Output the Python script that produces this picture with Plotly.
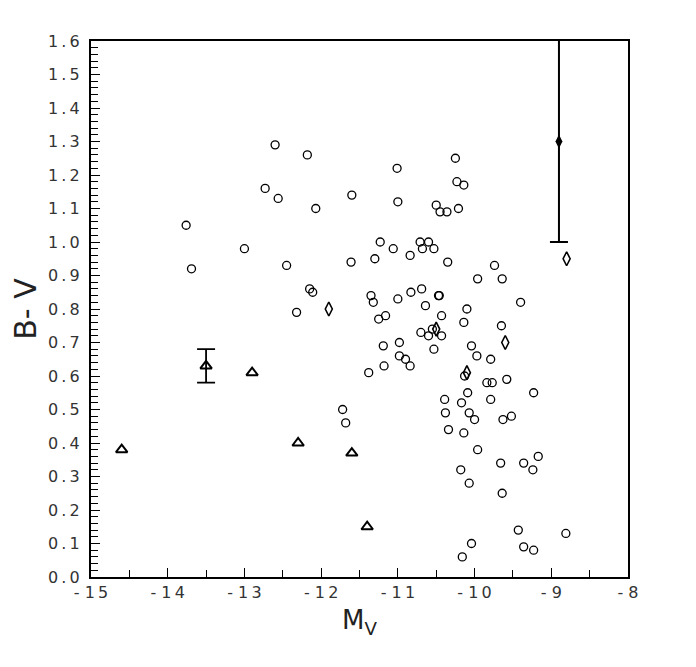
import plotly.graph_objects as go

# open circles
circ_x = [-12.60, -12.18, -11.01, -10.25, -12.73, -12.56, -12.07, -11.60, -11.00, -10.23,
          -10.14, -10.50, -10.45, -10.36, -10.21, -13.76, -13.69, -13.00, -12.45, -11.61,
          -11.30, -11.23, -11.06, -10.84, -10.71, -10.60, -10.68, -10.53, -10.35, -9.74,
          -9.96, -9.64, -12.15, -12.11, -12.32, -11.35, -11.32, -11.00, -10.83, -10.69,
          -10.47, -10.46, -10.64, -10.10, -10.43, -11.25, -11.16, -10.14, -9.65, -9.40,
          -10.70, -10.60, -10.55, -10.43, -11.19, -10.98, -10.53, -10.04, -10.98, -10.90,
          -10.84, -11.18, -11.38, -9.97, -9.79, -10.13, -9.84, -9.77, -9.58, -10.09,
          -9.23, -10.39, -9.79, -10.17, -11.72, -11.68, -10.38, -10.07, -10.00, -9.63,
          -9.52, -10.34, -10.14, -9.96, -9.17, -9.66, -9.36, -10.18, -9.24, -10.07,
          -9.64, -9.43, -8.81, -10.04, -9.36, -9.23, -10.16]
circ_y = [1.29, 1.26, 1.22, 1.25, 1.16, 1.13, 1.10, 1.14, 1.12, 1.18,
          1.17, 1.11, 1.09, 1.09, 1.10, 1.05, 0.92, 0.98, 0.93, 0.94,
          0.95, 1.00, 0.98, 0.96, 1.00, 1.00, 0.98, 0.98, 0.94, 0.93,
          0.89, 0.89, 0.86, 0.85, 0.79, 0.84, 0.82, 0.83, 0.85, 0.86,
          0.84, 0.84, 0.81, 0.80, 0.78, 0.77, 0.78, 0.76, 0.75, 0.82,
          0.73, 0.72, 0.74, 0.72, 0.69, 0.70, 0.68, 0.69, 0.66, 0.65,
          0.63, 0.63, 0.61, 0.66, 0.65, 0.60, 0.58, 0.58, 0.59, 0.55,
          0.55, 0.53, 0.53, 0.52, 0.50, 0.46, 0.49, 0.49, 0.47, 0.47,
          0.48, 0.44, 0.43, 0.38, 0.36, 0.34, 0.34, 0.32, 0.32, 0.28,
          0.25, 0.14, 0.13, 0.10, 0.09, 0.08, 0.06]

# bell-shaped (triangle) markers
bell_x = [-14.60, -12.90, -12.30, -11.60, -11.40]
bell_y = [0.38, 0.61, 0.40, 0.37, 0.15]
# the one bell with an error bar
bell_err_x = [-13.50]
bell_err_y = [0.63]
bell_err = [0.05]

# open diamonds
diam_x = [-8.80, -11.90, -10.50, -9.60, -10.10]
diam_y = [0.95, 0.80, 0.74, 0.70, 0.61]

# filled diamond with error bar
fdiam_x = [-8.90]
fdiam_y = [1.30]
fdiam_err_lo = [0.30]
fdiam_err_hi = [0.40]

y_ticks = [round(i / 10, 1) for i in range(17)]
x_ticks = list(range(-15, -7))

TS = "\u2009"
y_alias = {f"{v:.1f}": TS.join(f"{v:.1f}") for v in y_ticks}
x_alias = {f"\u2212{abs(v)}": "- " + TS.join(str(abs(v))) for v in x_ticks}

bell_marker = dict(symbol="triangle-up-open", size=10, color="black", line=dict(width=2))

fig = go.Figure()
fig.add_trace(go.Scatter(
    x=circ_x, y=circ_y, mode="markers",
    marker=dict(symbol="circle-open", size=8, color="black", line=dict(width=1.3)),
))
fig.add_trace(go.Scatter(x=bell_x, y=bell_y, mode="markers", marker=bell_marker))
fig.add_trace(go.Scatter(
    x=bell_err_x, y=bell_err_y, mode="markers", marker=bell_marker,
    error_y=dict(type="data", array=bell_err, color="black", thickness=1.8, width=9),
))
fig.add_trace(go.Scatter(
    x=diam_x, y=diam_y, mode="markers",
    marker=dict(symbol="diamond-tall-open", size=10, color="black", line=dict(width=1.6)),
))
fig.add_trace(go.Scatter(
    x=fdiam_x, y=fdiam_y, mode="markers",
    marker=dict(symbol="diamond-tall", size=10, color="black"),
    error_y=dict(type="data", symmetric=False, array=fdiam_err_hi, arrayminus=fdiam_err_lo,
                 color="black", thickness=2, width=9),
))

# page body adds 8px, so margins are shifted to land the frame at the reference spot
tick_font = dict(family="DejaVu Sans", size=16, color="#333")
fig.update_layout(
    width=696, height=667,
    margin=dict(l=83, r=76, t=33, b=98),
    paper_bgcolor="white", plot_bgcolor="white",
    showlegend=False,
    font=dict(family="DejaVu Sans", color="#222"),
    xaxis=dict(
        range=[-15, -8], tickmode="linear", tick0=-15, dtick=1, labelalias=x_alias,
        ticks="inside", ticklen=9, tickwidth=1, tickcolor="black",
        minor=dict(dtick=0.5, ticks="inside", ticklen=7, tickcolor="black"),
        showline=True, linecolor="black", linewidth=2, mirror=True,
        showgrid=False, zeroline=False, tickfont=tick_font, automargin=False,
        title=dict(text="M<sub>V</sub>", font=dict(size=26, color="#222"), standoff=10),
    ),
    yaxis=dict(
        range=[0, 1.6], tickmode="linear", tick0=0, dtick=0.1, tickformat=".1f",
        labelalias=y_alias,
        ticks="inside", ticklen=9, tickwidth=1, tickcolor="black",
        minor=dict(dtick=0.02, ticks="inside", ticklen=7, tickcolor="black"),
        showline=True, linecolor="black", linewidth=2, mirror=True,
        showgrid=False, zeroline=False, tickfont=tick_font, ticklabelstandoff=6,
        automargin=False,
        title=dict(text="B- V", font=dict(size=30, color="#222"), standoff=6),
    ),
)

fig.write_html("out.html")
